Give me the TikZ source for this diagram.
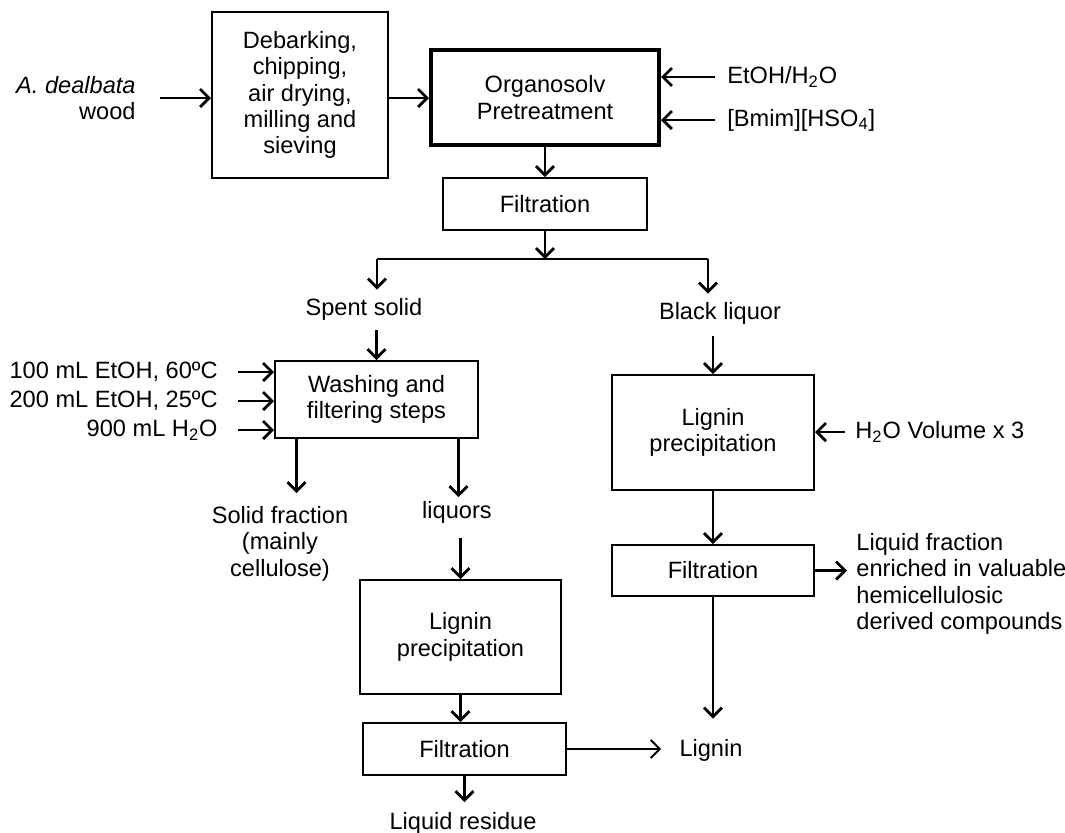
\documentclass[tikz,border=0pt]{standalone}
\usepackage{fontspec}
\setmainfont{Liberation Sans}
\usetikzlibrary{arrows.meta, positioning, calc}

\begin{document}
\begin{tikzpicture}[x=0.5pt, y=-0.5pt,
    font=\fontsize{11.8}{13.2}\selectfont,
    box/.style={draw, line width=1pt, align=center, inner sep=2pt},
    lbl/.style={inner sep=0pt, align=center},
    arr/.style={-{Straight Barb[length=4.5pt,width=9pt]}, line width=1.4pt},
    thinarr/.style={arr, line width=1pt}]
    \useasboundingbox[fill=white] (0,0) rectangle (1065,832);

    % Feedstock and pretreatment
    \node[lbl, align=right, anchor=east] (wood) at (136,98) {\textit{A. dealbata}\\wood};
    \node[box, minimum width=88pt, minimum height=83pt] (prep) at (300,95) {Debarking,\\chipping,\\air drying,\\milling and\\sieving};
    \node[box, line width=2pt, minimum width=114pt, minimum height=47.5pt] (organo) at (545,97.5) {Organosolv\\Pretreatment};
    \node[lbl, anchor=west] (etoh) at (727,77) {EtOH/H\textsubscript{2}O};
    \node[lbl, anchor=west] (bmim) at (727,120) {[Bmim][HSO\textsubscript{4}]};
    \node[box, minimum width=102pt, minimum height=26pt] (filt1) at (545,204) {Filtration};

    \draw[arr, shorten <=12pt] (wood.east) -- (wood.east -| prep.west);
    \draw[arr] (prep.east |- wood.east) -- (wood.east -| organo.west);
    \draw[arr, shorten <=6pt] (etoh.west) -- (etoh.west -| organo.east);
    \draw[arr, shorten <=6pt] (bmim.west) -- (bmim.west -| organo.east);
    \draw[arr] (organo.south) -- (filt1.north);

    % Split into solid and liquor
    \coordinate (splitL) at (377,259);
    \coordinate (splitR) at (708,259);
    \node[lbl] (spent) at (364,309) {Spent solid};
    \node[lbl] (black) at (720,313) {Black liquor};
    \draw[arr] (filt1.south) -- (filt1.south |- splitL);
    \draw[line width=1.4pt] (splitL) -- (splitR);
    \draw[arr, shorten >=4pt] (splitL) -- (splitL |- spent.north);
    \draw[arr, shorten >=4pt] (splitR) -- (splitR |- black.north);

    % Solid branch
    \node[box, minimum width=101.5pt, minimum height=38.5pt] (wash) at (376.5,399.5) {Washing and\\filtering steps};
    \node[lbl, anchor=east] (in1) at (218,372) {100 mL EtOH, 60ºC};
    \node[lbl, anchor=east] (in2) at (218,401) {200 mL EtOH, 25ºC};
    \node[lbl, anchor=east] (in3) at (218,430) {900 mL H\textsubscript{2}O};
    \node[lbl, anchor=north] (solid) at (280,506) {Solid fraction\\(mainly\\cellulose)};
    \node[lbl, anchor=north] (liquors) at (457,501) {liquors};
    \node[box, minimum width=100.5pt, minimum height=57pt] (lig2) at (460.5,637) {Lignin\\precipitation};
    \node[box, minimum width=101.5pt, minimum height=26pt] (filt3) at (464.5,749) {Filtration};
    \node[lbl, anchor=north] (residue) at (463,812) {Liquid residue};

    \draw[arr, shorten <=5pt] (wash.north |- spent.south) -- (wash.north);
    \foreach \n in {in1,in2,in3}
        \draw[arr, shorten <=10pt] (\n.east) -- (\n.east -| wash.west);
    \draw[arr, shorten >=6.5pt] ([xshift=-40pt]wash.south) -- ([xshift=-40pt]wash.south |- solid.north);
    \draw[arr, shorten >=2pt] ([xshift=41pt]wash.south) -- ([xshift=41pt]wash.south |- liquors.north);
    \draw[arr, shorten <=7pt] (lig2.north |- liquors.south) -- (lig2.north);
    \draw[arr] (lig2.south) -- (lig2.south |- filt3.north);
    \draw[arr, shorten >=5pt] (filt3.south) -- (filt3.south |- residue.north);

    % Liquor branch
    \node[box, minimum width=101pt, minimum height=57.5pt] (lig1) at (713,432.5) {Lignin\\precipitation};
    \node[lbl, anchor=west] (h2o) at (855,432) {H\textsubscript{2}O Volume x 3};
    \node[box, minimum width=101pt, minimum height=25.5pt] (filt2) at (713,570.5) {Filtration};
    \node[lbl, align=left, anchor=west] (liqfrac) at (856,584) {Liquid fraction\\enriched in valuable\\hemicellulosic\\derived compounds};
    \node[lbl] (lignin) at (711,750) {Lignin};

    \draw[arr, shorten <=6pt] (lig1.north |- black.south) -- (lig1.north);
    \draw[arr, shorten <=5pt] (h2o.west) -- (h2o.west -| lig1.east);
    \draw[arr] (lig1.south) -- (filt2.north);
    \draw[arr, shorten >=4.5pt] (filt2.east) -- (filt2.east -| liqfrac.west);
    \draw[arr, shorten >=10pt] (filt2.south) -- (filt2.south |- lignin.north);
    \draw[thinarr, shorten >=9pt] (filt3.east) -- (filt3.east -| lignin.west);
\end{tikzpicture}
\end{document}
